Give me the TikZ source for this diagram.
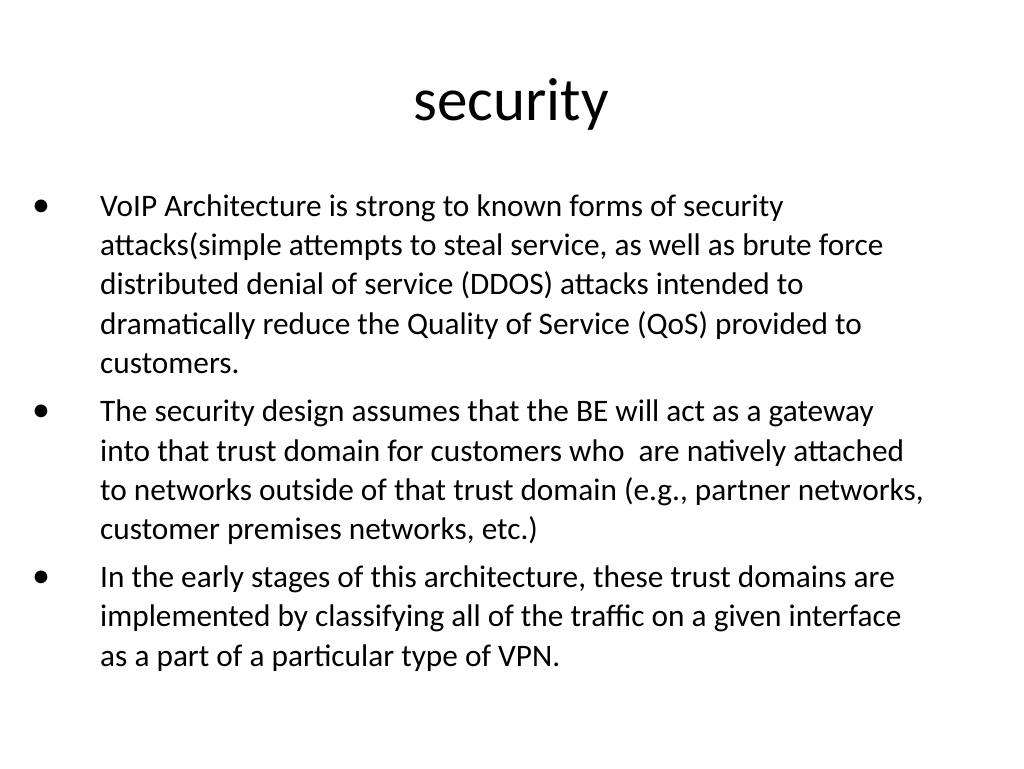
\documentclass[tikz,border=0pt]{standalone}
\usepackage{fontspec}
\setmainfont{Carlito}
\tikzset{
  body/.style={anchor=base west,inner sep=0pt,font=\fontsize{31.3}{36}\selectfont},
  bullet/.style={anchor=base,inner sep=0pt,font=\fontsize{36}{40}\selectfont},
}
\begin{document}
\begin{tikzpicture}[x=1pt,y=-1pt]
\useasboundingbox (0,0) rectangle (1024,768);
\node[anchor=base,inner sep=0pt,font=\fontsize{61}{70}\selectfont] (title) at (511,120) {security};
% bullets
\foreach \y/\n in {216/b1,421/b2,587/b3}
  \node[bullet] (\n) at (41,\y) {\textbullet};
% lines of text
\foreach \y/\t [count=\i] in {
  216/{VoIP Architecture is strong to known forms of security},
  255/{attacks(simple attempts to steal service, as well as brute force},
  294/{distributed denial of service (DDOS) attacks intended to},
  334/{dramatically reduce the Quality of Service (QoS) provided to},
  373/{customers.},
  421/{The security design assumes that the BE will act as a gateway},
  461/{into that trust domain for customers who\ \ are natively attached},
  500/{to networks outside of that trust domain (e.g., partner networks,},
  539/{customer premises networks, etc.)},
  587/{In the early stages of this architecture, these trust domains are},
  626/{implemented by classifying all of the traffic on a given interface},
  666/{as a part of a particular type of VPN.}}
  \node[body] (l\i) at (100,\y) {\t};
\end{tikzpicture}
\end{document}
